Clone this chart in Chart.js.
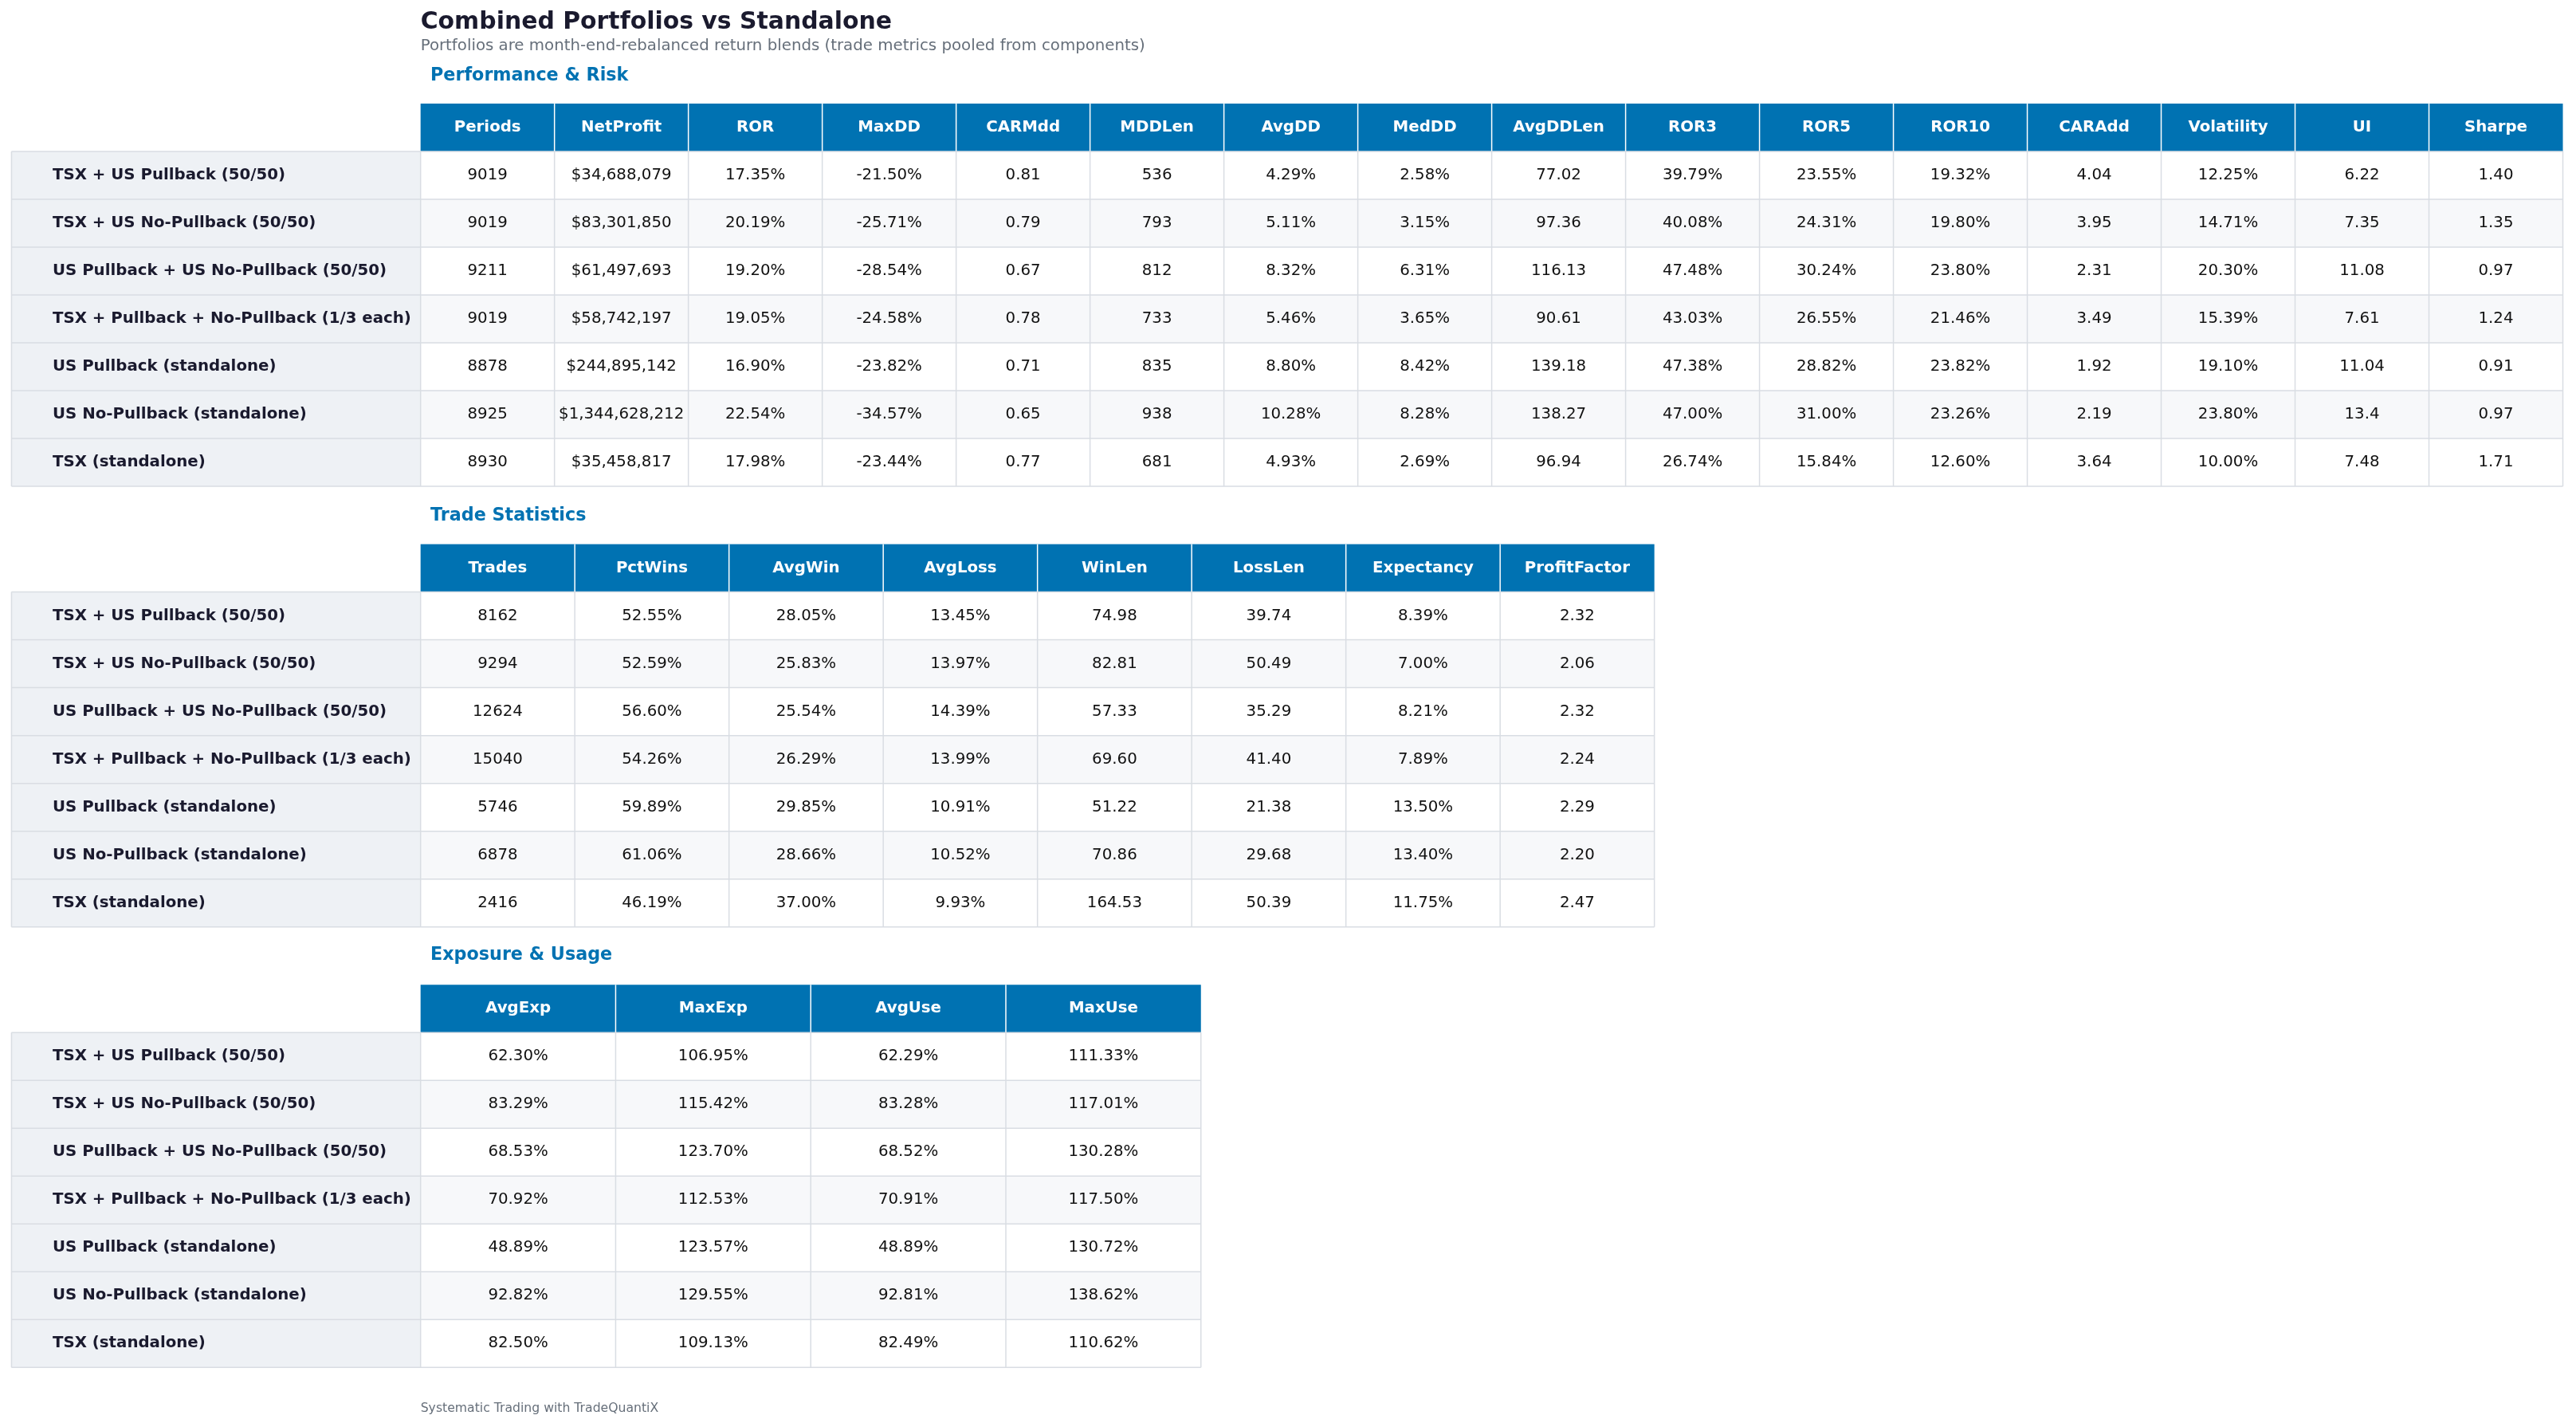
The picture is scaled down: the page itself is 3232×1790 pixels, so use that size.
<!DOCTYPE html>
<html><head><meta charset="utf-8">
<script src="https://cdn.jsdelivr.net/npm/chart.js@4.4.1/dist/chart.umd.min.js"></script>
<style>body{margin:0;background:#fff}canvas{display:block}</style>
</head><body>
<canvas id="c" width="3232" height="1790"></canvas>
<script>
var rowLabels = ["TSX + US Pullback (50/50)","TSX + US No-Pullback (50/50)","US Pullback + US No-Pullback (50/50)","TSX + Pullback + No-Pullback (1/3 each)","US Pullback (standalone)","US No-Pullback (standalone)","TSX (standalone)"];

var perfCols = ["Periods","NetProfit","ROR","MaxDD","CARMdd","MDDLen","AvgDD","MedDD","AvgDDLen","ROR3","ROR5","ROR10","CARAdd","Volatility","UI","Sharpe"];
var perfRows = [
  ["9019","$34,688,079","17.35%","-21.50%","0.81","536","4.29%","2.58%","77.02","39.79%","23.55%","19.32%","4.04","12.25%","6.22","1.40"],
  ["9019","$83,301,850","20.19%","-25.71%","0.79","793","5.11%","3.15%","97.36","40.08%","24.31%","19.80%","3.95","14.71%","7.35","1.35"],
  ["9211","$61,497,693","19.20%","-28.54%","0.67","812","8.32%","6.31%","116.13","47.48%","30.24%","23.80%","2.31","20.30%","11.08","0.97"],
  ["9019","$58,742,197","19.05%","-24.58%","0.78","733","5.46%","3.65%","90.61","43.03%","26.55%","21.46%","3.49","15.39%","7.61","1.24"],
  ["8878","$244,895,142","16.90%","-23.82%","0.71","835","8.80%","8.42%","139.18","47.38%","28.82%","23.82%","1.92","19.10%","11.04","0.91"],
  ["8925","$1,344,628,212","22.54%","-34.57%","0.65","938","10.28%","8.28%","138.27","47.00%","31.00%","23.26%","2.19","23.80%","13.4","0.97"],
  ["8930","$35,458,817","17.98%","-23.44%","0.77","681","4.93%","2.69%","96.94","26.74%","15.84%","12.60%","3.64","10.00%","7.48","1.71"]
];

var tradeCols = ["Trades","PctWins","AvgWin","AvgLoss","WinLen","LossLen","Expectancy","ProfitFactor"];
var tradeRows = [
  ["8162","52.55%","28.05%","13.45%","74.98","39.74","8.39%","2.32"],
  ["9294","52.59%","25.83%","13.97%","82.81","50.49","7.00%","2.06"],
  ["12624","56.60%","25.54%","14.39%","57.33","35.29","8.21%","2.32"],
  ["15040","54.26%","26.29%","13.99%","69.60","41.40","7.89%","2.24"],
  ["5746","59.89%","29.85%","10.91%","51.22","21.38","13.50%","2.29"],
  ["6878","61.06%","28.66%","10.52%","70.86","29.68","13.40%","2.20"],
  ["2416","46.19%","37.00%","9.93%","164.53","50.39","11.75%","2.47"]
];

var expoCols = ["AvgExp","MaxExp","AvgUse","MaxUse"];
var expoRows = [
  ["62.30%","106.95%","62.29%","111.33%"],
  ["83.29%","115.42%","83.28%","117.01%"],
  ["68.53%","123.70%","68.52%","130.28%"],
  ["70.92%","112.53%","70.91%","117.50%"],
  ["48.89%","123.57%","48.89%","130.72%"],
  ["92.82%","129.55%","92.81%","138.62%"],
  ["82.50%","109.13%","82.49%","110.62%"]
];

var sections = [
  {title:"Performance & Risk", titleY:46, top:63, right:1560, cols:perfCols, rows:perfRows},
  {title:"Trade Statistics", titleY:314, top:331, right:1007, cols:tradeCols, rows:tradeRows},
  {title:"Exposure & Usage", titleY:581, top:599, right:731, cols:expoCols, rows:expoRows}
];

var tablePlugin = {
  id: 'tables',
  afterDraw: function(chart) {
    var ctx = chart.ctx, xs = chart.scales.x, ys = chart.scales.y;
    var X = function(v){ return xs.getPixelForValue(v); };
    var Y = function(v){ return ys.getPixelForValue(v); };
    var k = (X(1568) - X(0)) / 1568;
    var font = function(w, s){ return w + ' ' + (s * k) + 'px "DejaVu Sans", sans-serif'; };
    ctx.save();
    ctx.textBaseline = 'middle';
    ctx.fillStyle = '#1a1a2e'; ctx.font = font('bold', 14.5); ctx.textAlign = 'left';
    ctx.fillText("Combined Portfolios vs Standalone", X(256), Y(13.5));
    ctx.fillStyle = '#666f7a'; ctx.font = font('normal', 9.6);
    ctx.fillText("Portfolios are month-end-rebalanced return blends (trade metrics pooled from components)", X(256), Y(28));
    ctx.fillStyle = '#666f7a'; ctx.font = font('normal', 7.6);
    ctx.fillText("Systematic Trading with TradeQuantiX", X(256), Y(857));

    var rowH = 29.1, left = 256, labL = 7;
    sections.forEach(function(s){
      ctx.fillStyle = '#0072B2'; ctx.font = font('bold', 10.8); ctx.textAlign = 'left';
      ctx.fillText(s.title, X(262), Y(s.titleY));
      var n = s.cols.length, cw = (s.right - left) / n;
      var hb = s.top + rowH;
      // header
      ctx.fillStyle = '#0072B2';
      ctx.fillRect(X(left), Y(s.top), X(s.right) - X(left), Y(hb) - Y(s.top));
      ctx.strokeStyle = '#ffffff'; ctx.lineWidth = 1.5;
      for (var c = 1; c < n; c++) {
        ctx.beginPath(); ctx.moveTo(X(left + c*cw), Y(s.top)); ctx.lineTo(X(left + c*cw), Y(hb)); ctx.stroke();
      }
      ctx.fillStyle = '#ffffff'; ctx.font = font('bold', 9.6); ctx.textAlign = 'center';
      s.cols.forEach(function(h, c){ ctx.fillText(h, X(left + (c+0.5)*cw), Y(s.top + rowH/2)); });
      // rows
      s.rows.forEach(function(r, i){
        var t = hb + i*rowH, b = t + rowH;
        ctx.fillStyle = '#eef1f5';
        ctx.fillRect(X(labL), Y(t), X(left) - X(labL), Y(b) - Y(t));
        ctx.fillStyle = i % 2 ? '#f7f8fa' : '#ffffff';
        ctx.fillRect(X(left), Y(t), X(s.right) - X(left), Y(b) - Y(t));
        ctx.fillStyle = '#1a1a2e'; ctx.font = font('bold', 9.6); ctx.textAlign = 'left';
        ctx.fillText(rowLabels[i], X(32), Y(t + rowH/2));
        ctx.fillStyle = '#111111'; ctx.font = font('normal', 9.6); ctx.textAlign = 'center';
        r.forEach(function(v, c){ ctx.fillText(v, X(left + (c+0.5)*cw), Y(t + rowH/2)); });
      });
      // grid
      ctx.strokeStyle = '#d9dde3'; ctx.lineWidth = 1.5;
      var bottom = hb + s.rows.length*rowH;
      for (var i = 0; i <= s.rows.length; i++) {
        var yy = hb + i*rowH;
        ctx.beginPath(); ctx.moveTo(X(labL), Y(yy)); ctx.lineTo(X(s.right), Y(yy)); ctx.stroke();
      }
      var vx = [labL, left];
      for (var c2 = 1; c2 <= n; c2++) vx.push(left + c2*cw);
      vx.forEach(function(x){
        ctx.beginPath(); ctx.moveTo(X(x), Y(x === labL ? hb : hb)); ctx.lineTo(X(x), Y(bottom)); ctx.stroke();
      });
    });
    ctx.restore();
  }
};

new Chart(document.getElementById('c'), {
  type: 'scatter',
  data: { datasets: [] },
  options: {
    responsive: false,
    devicePixelRatio: 1,
    animation: false,
    layout: { padding: 0 },
    plugins: { legend: { display: false }, tooltip: { enabled: false } },
    scales: {
      x: { type: 'linear', min: 0, max: 1568, display: false },
      y: { type: 'linear', min: 0, max: 868, reverse: true, display: false }
    }
  },
  plugins: [tablePlugin]
});
</script>
</body></html>
